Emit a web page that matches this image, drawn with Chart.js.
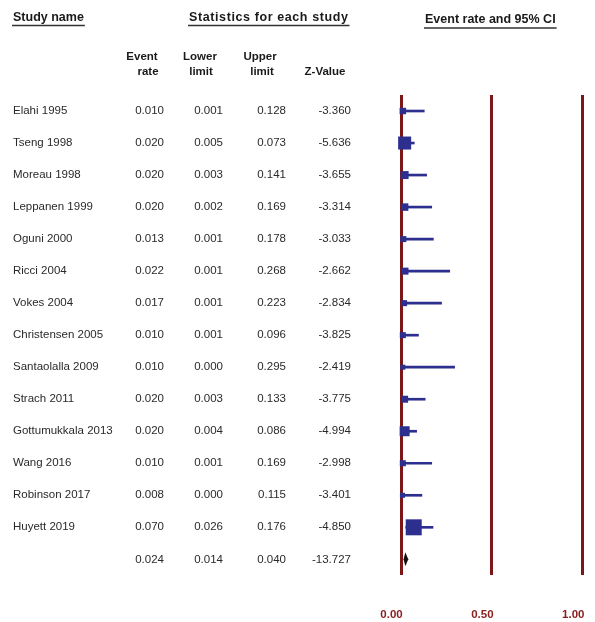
<!DOCTYPE html>
<html>
<head>
<meta charset="utf-8">
<script src="https://cdn.jsdelivr.net/npm/chart.js@4.4.0/dist/chart.umd.min.js"></script>
<style>
html,body{margin:0;padding:0;background:#fff;}
#wrap{width:595px;height:622px;position:relative;}
</style>
</head>
<body>
<div id="wrap"><canvas id="c" width="595" height="622"></canvas></div>
<script>
const studies = ["Elahi 1995","Tseng 1998","Moreau 1998","Leppanen 1999","Oguni 2000","Ricci 2004","Vokes 2004","Christensen 2005","Santaolalla 2009","Strach 2011","Gottumukkala 2013","Wang 2016","Robinson 2017","Huyett 2019"];
const eventRate = [0.010,0.020,0.020,0.020,0.013,0.022,0.017,0.010,0.010,0.020,0.020,0.010,0.008,0.070];
const lowerLimit = [0.001,0.005,0.003,0.002,0.001,0.001,0.001,0.001,0.000,0.003,0.004,0.001,0.000,0.026];
const upperLimit = [0.128,0.073,0.141,0.169,0.178,0.268,0.223,0.096,0.295,0.133,0.086,0.169,0.115,0.176];
const zValue = ["-3.360","-5.636","-3.655","-3.314","-3.033","-2.662","-2.834","-3.825","-2.419","-3.775","-4.994","-2.998","-3.401","-4.850"];
const relWeight = [4.3,17.3,6.5,5.7,3.7,5.0,3.7,3.7,2.6,5.0,10.2,3.7,2.6,26.1];
const summary = {rate:0.024, lower:0.014, upper:0.040, z:"-13.727"};
const xTicks = [0, 0.5, 1];

const rowLabels = studies.concat(["__summary__"]);
const fmt3 = v => v.toFixed(3);

const BLUE = '#2c2f8e';
const RED = '#7d1717';
const RED_TXT = '#8a2020';

const textPlugin = {
  id: 'forestText',
  afterDraw(chart) {
    const ctx = chart.ctx;
    const ys = chart.scales.y;
    const xs = chart.scales.x;
    ctx.save();
    // headers
    ctx.fillStyle = '#1a1a1a';
    ctx.strokeStyle = '#333';
    ctx.font = 'bold 12.5px "Liberation Sans", Arial, sans-serif';
    ctx.textBaseline = 'middle';
    const header = (txt, x, y, uy, ls) => {
      ctx.textAlign = 'left';
      ctx.letterSpacing = ls || '0px';
      ctx.fillText(txt, x, y);
      const w = ctx.measureText(txt).width;
      ctx.letterSpacing = '0px';
      ctx.lineWidth = 1.5;
      ctx.beginPath();
      ctx.moveTo(x - 1, uy);
      ctx.lineTo(x + w + 1, uy);
      ctx.stroke();
    };
    header('Study name', 13, 18, 25.5);
    header('Statistics for each study', 189, 18, 25.5, '0.6px');
    header('Event rate and 95% CI', 425, 20, 28);
    ctx.font = 'bold 11.5px "Liberation Sans", Arial, sans-serif';
    ctx.textAlign = 'center';
    ctx.fillText('Event', 142, 57);
    ctx.fillText('rate', 148, 72);
    ctx.fillText('Lower', 200, 57);
    ctx.fillText('limit', 201, 72);
    ctx.fillText('Upper', 260, 57);
    ctx.fillText('limit', 262, 72);
    ctx.fillText('Z-Value', 325, 72);

    // rows
    ctx.font = '11.5px "Liberation Sans", Arial, sans-serif';
    ctx.fillStyle = '#2a2a2a';
    studies.forEach((s, i) => {
      const y = ys.getPixelForValue(i);
      ctx.textAlign = 'left';
      ctx.fillText(s, 13, y);
      ctx.textAlign = 'right';
      ctx.fillText(fmt3(eventRate[i]), 164, y);
      ctx.fillText(fmt3(lowerLimit[i]), 223, y);
      ctx.fillText(fmt3(upperLimit[i]), 286, y);
      ctx.fillText(zValue[i], 351, y);
    });
    const sy = ys.getPixelForValue(studies.length);
    ctx.textAlign = 'right';
    ctx.fillText(fmt3(summary.rate), 164, sy);
    ctx.fillText(fmt3(summary.lower), 223, sy);
    ctx.fillText(fmt3(summary.upper), 286, sy);
    ctx.fillText(summary.z, 351, sy);

    // summary diamond
    const xl = xs.getPixelForValue(summary.lower);
    const xr = xs.getPixelForValue(summary.upper);
    const xm = xs.getPixelForValue(summary.rate);
    ctx.fillStyle = '#111';
    ctx.beginPath();
    ctx.moveTo(xl, sy);
    ctx.lineTo(xm, sy - 7);
    ctx.lineTo(xr, sy);
    ctx.lineTo(xm, sy + 7);
    ctx.closePath();
    ctx.fill();
    ctx.restore();
  }
};

const boxRadius = relWeight.map(w => (3.13 * Math.sqrt(w)) / Math.SQRT2);

new Chart(document.getElementById('c'), {
  type: 'bar',
  data: {
    labels: rowLabels,
    datasets: [
      {
        type: 'bar',
        data: studies.map((s, i) => [lowerLimit[i], upperLimit[i]]).concat([null]),
        backgroundColor: BLUE,
        borderWidth: 0,
        barThickness: 2,
        clip: false,
        order: 2
      },
      {
        type: 'scatter',
        data: studies.map((s, i) => ({x: eventRate[i], y: s})),
        pointStyle: 'rect',
        pointRadius: boxRadius,
        pointBackgroundColor: BLUE,
        pointBorderWidth: 0,
        pointBorderColor: BLUE,
        clip: false,
        order: 1
      }
    ]
  },
  options: {
    indexAxis: 'y',
    responsive: false,
    animation: false,
    events: [],
    layout: {padding: {left: 401, right: 12, top: 95, bottom: 0}, autoPadding: false},
    plugins: {legend: {display: false}, tooltip: {enabled: false}, title: {display: false}},
    scales: {
      x: {
        type: 'linear',
        min: 0,
        max: 1,
        afterBuildTicks: (axis) => { axis.ticks = xTicks.map(v => ({value: v})); },
        border: {display: false},
        grid: {color: RED, lineWidth: 3, drawTicks: true, tickLength: 32, tickColor: 'rgba(0,0,0,0)'},
        ticks: {
          padding: 1,
          labelOffset: -9.5,
          color: RED_TXT,
          font: {family: '"Liberation Sans", Arial, sans-serif', size: 11.5, weight: 'bold', lineHeight: 1.1},
          callback: v => Number(v).toFixed(2)
        }
      },
      y: {
        type: 'category',
        labels: rowLabels,
        offset: true,
        display: false,
        grid: {display: false}
      }
    }
  },
  plugins: [textPlugin]
});
</script>
</body>
</html>
